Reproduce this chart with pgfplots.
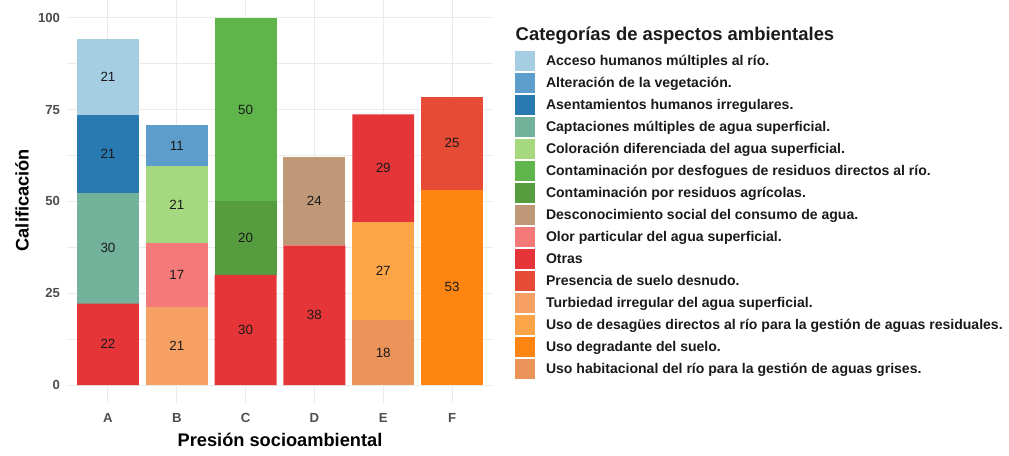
\documentclass[border=0pt]{standalone}
\usepackage{pgfplots}
\pgfplotsset{compat=1.18}
\usepackage{fontspec}
\setmainfont{Liberation Sans}
\definecolor{c01}{HTML}{A6CEE3}
\definecolor{c02}{HTML}{5C9DCB}
\definecolor{c03}{HTML}{2A7AB2}
\definecolor{c04}{HTML}{72B29B}
\definecolor{c05}{HTML}{A6D880}
\definecolor{c06}{HTML}{5FB54A}
\definecolor{c07}{HTML}{559D3F}
\definecolor{c08}{HTML}{BF9977}
\definecolor{c09}{HTML}{F47A7A}
\definecolor{c10}{HTML}{E63538}
\definecolor{c11}{HTML}{E64B35}
\definecolor{c12}{HTML}{F6A163}
\definecolor{c13}{HTML}{FBA548}
\definecolor{c14}{HTML}{FF8513}
\definecolor{c15}{HTML}{EA9459}
\definecolor{gridgray}{HTML}{EBEBEB}
\definecolor{tickgray}{HTML}{4D4D4D}
\definecolor{txt}{HTML}{1A1A1A}
\pgfplotsset{
  panel/.style={at={(66.7bp,52.6bp)}, anchor=south west, scale only axis,
    width=426.6bp, height=404bp, xmin=-0.6, xmax=5.6, ymin=-5, ymax=105},
  seg/.style={fill=#1, draw=none},
}
\begin{document}
\begin{tikzpicture}
\useasboundingbox (0,0) rectangle (1009bp,456bp);
\begin{axis}[panel,
  ybar stacked, bar width=0.9,
  xtick={0,1,2,3,4,5}, xticklabels={A,B,C,D,E,F},
  ytick={0,25,50,75,100},
  minor ytick={12.5,37.5,62.5,87.5},
  xmajorgrids, ymajorgrids, yminorgrids,
  major grid style={draw=gridgray, line width=1bp},
  minor grid style={draw=gridgray, line width=0.5bp},
  axis line style={draw=none},
  major tick length=0pt, minor tick length=0pt,
  tick label style={font=\fontsize{13.2}{15}\selectfont\bfseries, text=tickgray},
  /pgf/number format/assume math mode=true,
  yticklabel style={anchor=east, inner sep=0pt, xshift=-6.5bp},
  xticklabel style={anchor=north, inner sep=0pt, yshift=-10bp},
  xlabel={Presión socioambiental}, ylabel={Calificación},
  label style={font=\fontsize{18.3}{21}\selectfont\bfseries, text=black},
  xlabel style={at={(axis description cs:0.5,-0.0906)}, anchor=center},
  ylabel style={at={(axis description cs:-0.1048,0.503)}, anchor=center},
  reverse legend,
  legend image code/.code={\fill[#1] (0bp,-10bp) rectangle (20bp,10bp);},
  legend style={at={(1.0509,0.872)}, anchor=north west, draw=none, fill=none,
    inner sep=0pt, outer sep=0pt, row sep=2bp, column sep=11bp,
    font=\fontsize{14.1}{16}\selectfont\bfseries, text=txt,
    nodes={inner sep=0pt, outer sep=0pt}},
  legend cell align=left,
]
% bottom-most series first
\addplot[seg=c15] coordinates {(0,0) (1,0) (2,0) (3,0) (4,17.7) (5,0)};
\addplot[seg=c14] coordinates {(0,0) (1,0) (2,0) (3,0) (4,0) (5,53.2)};
\addplot[seg=c13] coordinates {(0,0) (1,0) (2,0) (3,0) (4,26.7) (5,0)};
\addplot[seg=c12] coordinates {(0,0) (1,21.3) (2,0) (3,0) (4,0) (5,0)};
\addplot[seg=c11] coordinates {(0,0) (1,0) (2,0) (3,0) (4,0) (5,25.2)};
\addplot[seg=c10] coordinates {(0,22.2) (1,0) (2,30) (3,38) (4,29.3) (5,0)};
\addplot[seg=c09] coordinates {(0,0) (1,17.3) (2,0) (3,0) (4,0) (5,0)};
\addplot[seg=c08] coordinates {(0,0) (1,0) (2,0) (3,24.1) (4,0) (5,0)};
\addplot[seg=c07] coordinates {(0,0) (1,0) (2,20) (3,0) (4,0) (5,0)};
\addplot[seg=c06] coordinates {(0,0) (1,0) (2,50) (3,0) (4,0) (5,0)};
\addplot[seg=c05] coordinates {(0,0) (1,21.1) (2,0) (3,0) (4,0) (5,0)};
\addplot[seg=c04] coordinates {(0,30.1) (1,0) (2,0) (3,0) (4,0) (5,0)};
\addplot[seg=c03] coordinates {(0,21.2) (1,0) (2,0) (3,0) (4,0) (5,0)};
\addplot[seg=c02] coordinates {(0,0) (1,11.0) (2,0) (3,0) (4,0) (5,0)};
\addplot[seg=c01] coordinates {(0,20.8) (1,0) (2,0) (3,0) (4,0) (5,0)};
\addlegendentry{Uso habitacional del río para la gestión de aguas grises.}
\addlegendentry{Uso degradante del suelo.}
\addlegendentry{Uso de desagües directos al río para la gestión de aguas residuales.}
\addlegendentry{Turbiedad irregular del agua superficial.}
\addlegendentry{Presencia de suelo desnudo.}
\addlegendentry{Otras}
\addlegendentry{Olor particular del agua superficial.}
\addlegendentry{Desconocimiento social del consumo de agua.}
\addlegendentry{Contaminación por residuos agrícolas.}
\addlegendentry{Contaminación por desfogues de residuos directos al río.}
\addlegendentry{Coloración diferenciada del agua superficial.}
\addlegendentry{Captaciones múltiples de agua superficial.}
\addlegendentry{Asentamientos humanos irregulares.}
\addlegendentry{Alteración de la vegetación.}
\addlegendentry{Acceso humanos múltiples al río.}
\end{axis}
\begin{axis}[panel, hide axis, clip=false]
\addplot[draw=none, mark=none, nodes near coords, point meta=explicit symbolic,
  nodes near coords align={center},
  every node near coord/.append style={anchor=center, inner sep=0pt,
    font=\fontsize{13.4}{15}\selectfont, text=txt}]
  table[meta=lab] {
x y lab
0 11.1 22
0 37.25 30
0 62.9 21
0 83.9 21
1 10.65 21
1 29.95 17
1 49.15 21
1 65.2 11
2 15 30
2 40 20
2 75 50
3 19 38
3 50.05 24
4 8.85 18
4 31.05 27
4 59.05 29
5 26.6 53
5 65.8 25
};
\end{axis}
\node[anchor=base west, inner sep=0pt, font=\fontsize{18.5}{21}\selectfont\bfseries, text=txt]
  at (515.5bp,415.3bp) {Categorías de aspectos ambientales};
\end{tikzpicture}
\end{document}
